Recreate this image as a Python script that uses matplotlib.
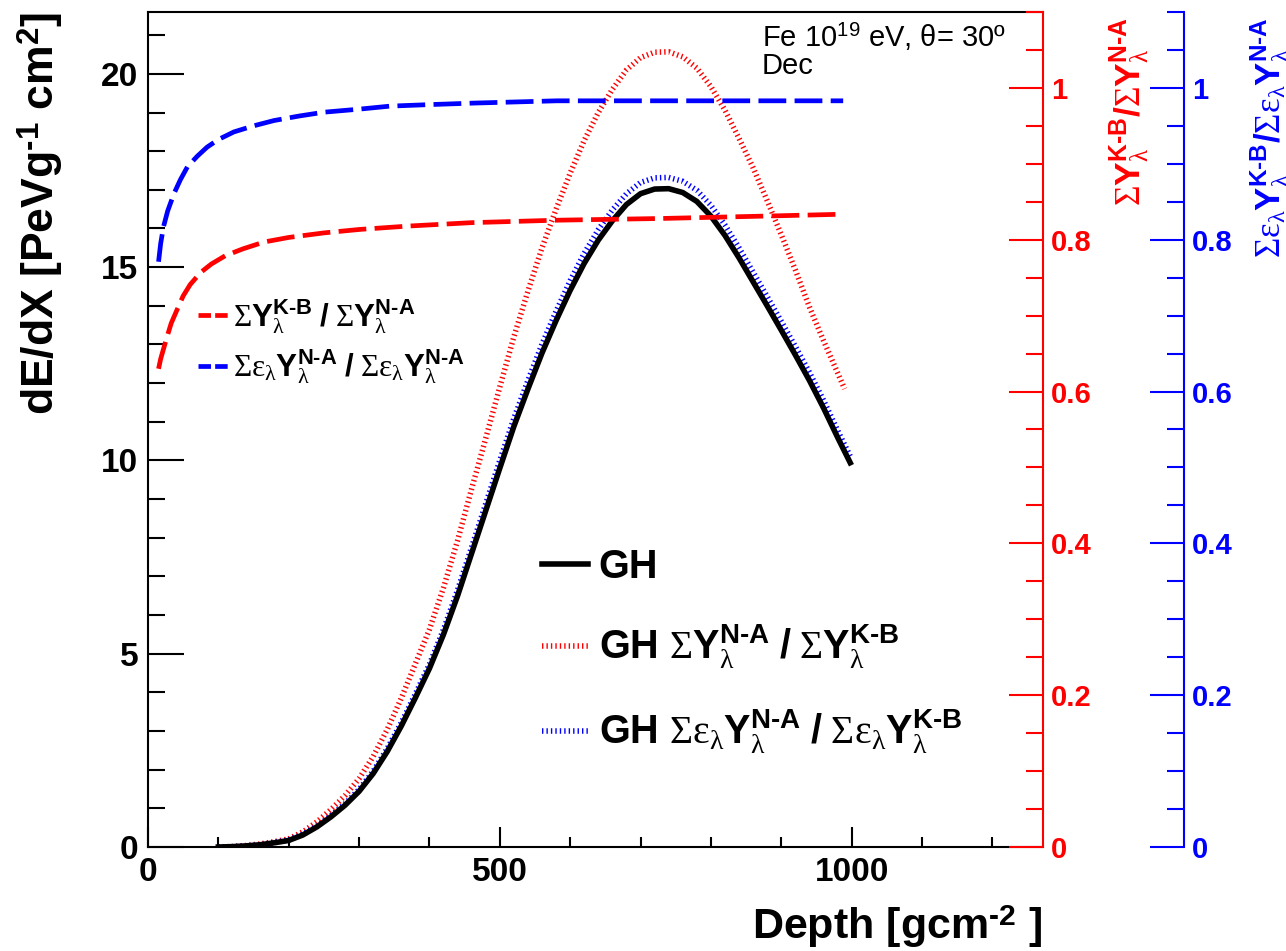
import matplotlib
matplotlib.use("Agg")
import matplotlib.pyplot as plt
from matplotlib.lines import Line2D
from matplotlib.ticker import MultipleLocator, FuncFormatter

# slant depth grid of the profiles [g/cm2]
depth = [100, 120, 140, 160, 180, 200, 220, 240, 260, 280, 300, 320, 340, 360, 380,
         400, 420, 440, 460, 480, 500, 520, 540, 560, 580, 600, 620, 640, 660, 680,
         700, 720, 740, 760, 780, 800, 820, 840, 860, 880, 900, 920, 940, 960, 980, 998]

# energy deposit, Gaisser-Hillas fit [PeV g-1 cm2]
gh = [0.0, 0.01, 0.03, 0.06, 0.11, 0.17, 0.31, 0.52, 0.78, 1.08, 1.44, 1.9, 2.47,
      3.13, 3.86, 4.62, 5.5, 6.5, 7.6, 8.7, 9.8, 10.88, 11.85, 12.78, 13.62, 14.4,
      15.1, 15.7, 16.2, 16.62, 16.9, 17.02, 17.03, 16.93, 16.7, 16.32, 15.82, 15.24,
      14.62, 14.0, 13.37, 12.73, 12.07, 11.36, 10.6, 9.94]

# GH rescaled with sum Y(N-A) / sum Y(K-B)
depth_na = [100, 120, 140, 160, 180, 200, 220, 240, 260, 280, 300, 320, 340, 360, 380,
            400, 420, 440, 460, 480, 500, 520, 540, 560, 580, 600, 620, 640, 660, 680,
            700, 720, 740, 760, 780, 800, 820, 840, 860, 880, 900, 920, 940, 960, 980,
            990]
gh_na = [0.0, 0.01, 0.04, 0.08, 0.14, 0.21, 0.39, 0.65, 0.97, 1.33, 1.77, 2.34, 3.04,
         3.85, 4.74, 5.63, 6.71, 7.93, 9.27, 10.57, 11.9, 13.2, 14.38, 15.5, 16.5,
         17.43, 18.28, 19.0, 19.6, 20.1, 20.42, 20.56, 20.57, 20.44, 20.15, 19.67,
         19.06, 18.33, 17.57, 16.72, 15.84, 14.93, 13.97, 13.1, 12.27, 11.85]

# GH rescaled with the efficiency-weighted yields
gh_na_eff = [0.0, 0.01, 0.03, 0.06, 0.12, 0.18, 0.33, 0.54, 0.81, 1.12, 1.49, 1.96,
             2.55, 3.22, 3.96, 4.73, 5.63, 6.65, 7.76, 8.88, 10.0, 11.09, 12.07, 13.01,
             13.86, 14.65, 15.36, 15.97, 16.48, 16.9, 17.19, 17.31, 17.32, 17.22,
             16.99, 16.6, 16.09, 15.5, 14.87, 14.24, 13.6, 12.95, 12.28, 11.56, 10.78,
             10.11]

# yield ratio K-B / N-A
depth_kb = [15, 18, 22, 27, 33, 40, 50, 60, 75, 90, 110, 135, 165, 200, 250, 300,
            370, 460, 580, 730, 870, 988]
ratio_kb = [0.630, 0.643, 0.656, 0.672, 0.690, 0.705, 0.726, 0.741, 0.757, 0.768,
            0.779, 0.788, 0.797, 0.803, 0.809, 0.8135, 0.818, 0.8225, 0.8257, 0.828,
            0.831, 0.8336]

# efficiency-weighted yield ratio
depth_eff = [15, 18, 22, 28, 37, 46, 56, 70, 84, 100, 122, 150, 179, 215, 250, 300,
             344, 400, 463, 581, 728, 870, 988]
ratio_eff = [0.771, 0.795, 0.817, 0.838, 0.861, 0.879, 0.896, 0.910, 0.922, 0.932,
             0.942, 0.950, 0.957, 0.963, 0.968, 0.972, 0.976, 0.978, 0.980, 0.983,
             0.983, 0.983, 0.983]

W, H = 1286, 951
RED, BLUE = "#ff0000", "#0000ff"

plt.rcParams["font.family"] = ["Liberation Sans", "DejaVu Sans"]
plt.rcParams["font.weight"] = "bold"
plt.rcParams["mathtext.fontset"] = "custom"
plt.rcParams["mathtext.rm"] = "Liberation Serif:weight=normal"
plt.rcParams["mathtext.it"] = "Liberation Serif:italic:weight=normal"
plt.rcParams["mathtext.bf"] = "Liberation Sans:bold"
plt.rcParams["mathtext.sf"] = "Liberation Sans:weight=normal"
plt.rcParams["lines.scale_dashes"] = False

HY = "\u2010"
KB = "K" + HY + "B"
NA = "N" + HY + "A"


def ysum(sup, eps=False):
    s = r"\mathrm{Σ}"
    if eps:
        s += r"\mathrm{ε}_{\mathrm{λ}}"
    return s + r"\mathbf{Y}^{\mathbf{" + sup + r"}}_{\mathrm{λ}}"


SLASH = r"\ \mathbf{/}\ "
DOTS = (1.0, 2.2)

fig = plt.figure(figsize=(W / 100, H / 100), dpi=100)
ax = fig.add_axes([148 / W, 1 - 847 / H, 895 / W, 835 / H])
ax2 = ax.twinx()
ax3 = ax.twinx()

# profiles on the left axis
l_gh, = ax.plot(depth, gh, color="black", lw=4.0, zorder=4)
l_na, = ax.plot(depth_na, gh_na, color=RED, lw=4, dashes=DOTS, zorder=3)
l_eff, = ax.plot(depth, gh_na_eff, color=BLUE, lw=4, dashes=DOTS, zorder=3)

# ratios on the coloured axes
ax2.plot(depth_kb, ratio_kb, color=RED, lw=3.4, dashes=(20, 6))
ax3.plot(depth_eff, ratio_eff, color=BLUE, lw=3.4, dashes=(20, 6))

ax.set_xlim(0, 1272)
ax.set_ylim(0, 21.6)
ax.xaxis.set_major_locator(MultipleLocator(500))
ax.xaxis.set_minor_locator(MultipleLocator(100))
ax.yaxis.set_major_locator(MultipleLocator(5))
ax.yaxis.set_minor_locator(MultipleLocator(1))
ax.tick_params(which="both", direction="in", width=1.5, right=False, top=False)
ax.tick_params(axis="y", which="major", length=26, labelsize=24, pad=7)
ax.tick_params(axis="y", which="minor", length=12.5)
ax.tick_params(axis="x", which="major", length=14.5, labelsize=24, pad=7)
ax.tick_params(axis="x", which="minor", length=7.3)
for s in ax.spines.values():
    s.set_linewidth(1.5)
ax.spines["right"].set_visible(False)

fmt = FuncFormatter(lambda v, p: "%g" % round(v, 2))
for a, col, pos in ((ax2, RED, 1.0), (ax3, BLUE, 1036 / 895)):
    a.set_ylim(0, 1.1)
    for k in ("left", "top", "bottom"):
        a.spines[k].set_visible(False)
    a.spines["right"].set_position(("axes", pos))
    a.spines["right"].set_color(col)
    a.spines["right"].set_linewidth(1.5)
    a.yaxis.set_major_locator(MultipleLocator(0.2))
    a.yaxis.set_minor_locator(MultipleLocator(0.05))
    a.yaxis.set_major_formatter(fmt)
    a.tick_params(which="both", direction="in", width=1.5, color=col, labelcolor=col)
    a.tick_params(which="major", length=24.5, labelsize=21, pad=6)
    a.tick_params(which="minor", length=12)

# axis titles
fig.text(40 / W, 1 - 12 / H, "dE/dX [PeVg$^{\\mathbf{" + HY + "1}}$ cm$^{\\mathbf{2}}$]",
         rotation=90, ha="center", va="top", fontsize=32)
fig.text(1042 / W, 1 - 927 / H, "Depth [gcm$^{\\mathbf{" + HY + "2}}$ ]",
         ha="right", va="center", fontsize=31)
fig.text(1130 / W, 1 - 17 / H, "$" + ysum(KB) + r"\mathbf{/}" + ysum(NA) + "$",
         rotation=90, ha="center", va="top", fontsize=25.5, color=RED)
fig.text(1270 / W, 1 - 17 / H,
         "$" + ysum(KB, True) + r"\mathbf{/}" + ysum(NA, True) + "$",
         rotation=90, ha="center", va="top", fontsize=25, color=BLUE)

fig.text(762 / W, 1 - 37 / H, "Fe 10$^{\\mathsf{19}}$ eV, θ= 30º",
         ha="left", va="center", fontsize=21, fontweight="normal")
fig.text(762 / W, 1 - 66 / H, "Dec", ha="left", va="center", fontsize=21,
         fontweight="normal")

# legend for the ratio curves
ratio_keys = [Line2D([], [], color=RED, lw=3.4, dashes=(9, 3)),
              Line2D([], [], color=BLUE, lw=3.4, dashes=(9, 3))]
ratio_labels = ["$" + ysum(KB) + SLASH + ysum(NA) + "$",
                "$" + ysum(NA, True) + SLASH + ysum(NA, True) + "$"]
leg1 = ax3.legend(ratio_keys, ratio_labels, loc="upper left",
                  bbox_to_anchor=(198 / W, 1 - 297 / H), bbox_transform=fig.transFigure,
                  frameon=False, fontsize=22.5, handlelength=0.95, handletextpad=0.18,
                  borderpad=0, borderaxespad=0, labelspacing=0.38)
ax3.add_artist(leg1)

# legend for the profiles
prof_labels = ["GH",
               "GH $" + ysum(NA) + SLASH + ysum(KB) + "$",
               "GH $" + ysum(NA, True) + SLASH + ysum(KB, True) + "$"]
leg2 = ax3.legend([l_gh, l_na, l_eff], prof_labels, loc="upper left",
                  bbox_to_anchor=(542 / W, 1 - 548 / H), bbox_transform=fig.transFigure,
                  frameon=False, fontsize=28.5, handlelength=1.15, handletextpad=0.28,
                  borderpad=0, borderaxespad=0, labelspacing=0.93)

fig.savefig("out.png", dpi=100)
